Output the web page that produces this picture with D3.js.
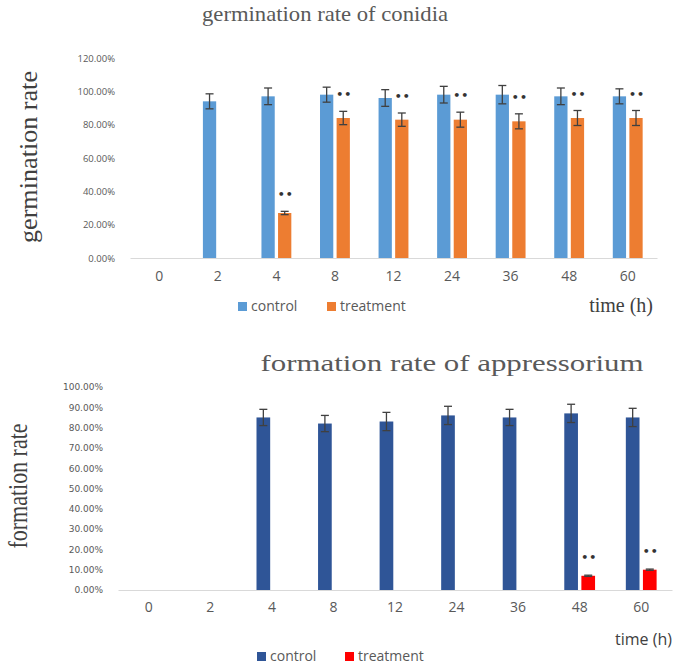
<!DOCTYPE html>
<html><head><meta charset="utf-8">
<script src="https://cdn.jsdelivr.net/npm/d3@7"></script>
<style>body{margin:0;background:#fff;}svg{display:block;}</style>
</head><body>
<script>
// ---- data ----
const categories = ["0","2","4","8","12","24","36","48","60"];
const seriesNames = ["control","treatment"];

const germControl    = [0, 0.94, 0.97, 0.98, 0.96, 0.98, 0.98, 0.97, 0.97];
const germControlErr = [0, 0.045, 0.05, 0.045, 0.05, 0.05, 0.055, 0.05, 0.045];
const germTreat      = [0, 0, 0.27, 0.84, 0.83, 0.83, 0.82, 0.84, 0.84];
const germTreatErr   = [0, 0, 0.01, 0.04, 0.04, 0.045, 0.045, 0.045, 0.045];
const germSig        = [false, false, true, true, true, true, true, true, true];
const germTicks      = [0, 0.2, 0.4, 0.6, 0.8, 1.0, 1.2];

const formControl    = [0, 0, 0.85, 0.82, 0.83, 0.86, 0.85, 0.87, 0.85];
const formControlErr = [0, 0, 0.04, 0.04, 0.045, 0.045, 0.04, 0.045, 0.045];
const formTreat      = [0, 0, 0, 0, 0, 0, 0, 0.07, 0.10];
const formTreatErr   = [0, 0, 0, 0, 0, 0, 0, 0.003, 0.003];
const formSig        = [false, false, false, false, false, false, false, true, true];
const formTicks      = [0, 0.1, 0.2, 0.3, 0.4, 0.5, 0.6, 0.7, 0.8, 0.9, 1.0];

const W = 673, H = 664;
const svg = d3.select("body").append("svg").attr("width", W).attr("height", H);
const fmt = d3.format(".2%");

function drawChart(o) {
  const g = svg.append("g");
  const x0 = d3.scaleBand().domain(categories).range([o.x0, o.x1])
    .paddingInner(o.pad).paddingOuter(o.pad / 2);
  const x1 = d3.scaleBand().domain(seriesNames).range([0, x0.bandwidth()])
    .paddingInner(0.2).paddingOuter(0);
  const y = d3.scaleLinear().domain([0, o.ymax]).range([o.y0, o.y1]);

  // y axis labels
  const ya = d3.axisLeft(y).tickValues(o.ticks).tickFormat(fmt).tickSize(0).tickPadding(0);
  const yg = g.append("g").attr("transform", `translate(${o.ylabX},0)`).call(ya);
  yg.select(".domain").remove();
  yg.selectAll("text").attr("font-family", o.yFont).attr("font-size", o.yFontSize)
    .attr("fill", "#595959");

  // baseline + x labels
  const xa = d3.axisBottom(x0).tickSize(0).tickPadding(o.xPad);
  const xg = g.append("g").attr("transform", `translate(0,${o.y0})`).call(xa);
  xg.select(".domain").attr("stroke", "#d9d9d9").attr("stroke-width", 1.2);
  xg.selectAll("text").attr("font-family", "'Open Sans', sans-serif").attr("font-size", 14)
    .attr("fill", "#595959");

  const rows = categories.map((c, i) => ({
    c, i,
    vals: [
      { s: "control", v: o.ctrl[i], e: o.ctrlErr[i] },
      { s: "treatment", v: o.trt[i], e: o.trtErr[i] }
    ]
  }));

  const grp = g.selectAll(".grp").data(rows).join("g")
    .attr("transform", d => `translate(${x0(d.c)},0)`);

  grp.selectAll("rect").data(d => d.vals.filter(v => v.v > 0)).join("rect")
    .attr("x", d => x1(d.s)).attr("width", x1.bandwidth())
    .attr("y", d => y(d.v)).attr("height", d => y(0) - y(d.v))
    .attr("fill", d => o.colors[d.s]);

  // error bars
  const eb = grp.selectAll(".eb").data(d => d.vals.filter(v => v.v > 0)).join("g")
    .attr("stroke", "#404040").attr("stroke-width", 1.3);
  eb.append("line")
    .attr("x1", d => x1(d.s) + x1.bandwidth() / 2).attr("x2", d => x1(d.s) + x1.bandwidth() / 2)
    .attr("y1", d => y(d.v + d.e)).attr("y2", d => y(d.v - d.e));
  eb.append("line")
    .attr("x1", d => x1(d.s) + x1.bandwidth() / 2 - 4).attr("x2", d => x1(d.s) + x1.bandwidth() / 2 + 4)
    .attr("y1", d => y(d.v + d.e)).attr("y2", d => y(d.v + d.e));
  eb.append("line")
    .attr("x1", d => x1(d.s) + x1.bandwidth() / 2 - 4).attr("x2", d => x1(d.s) + x1.bandwidth() / 2 + 4)
    .attr("y1", d => y(d.v - d.e)).attr("y2", d => y(d.v - d.e));

  // significance marks (above the treatment bar)
  grp.filter(d => o.sig[d.i]).append("text")
    .attr("x", x1("treatment") + x1.bandwidth() / 2 + 1)
    .attr("y", d => y(o.trt[d.i] + o.trtErr[d.i]) - o.sigOff)
    .attr("text-anchor", "middle").attr("dominant-baseline", "middle")
    .attr("font-family", "'DejaVu Sans', sans-serif").attr("font-size", 11).attr("font-weight", "bold")
    .attr("letter-spacing", 1)
    .attr("fill", "#333").text("••");

  // title
  svg.append("text").attr("x", o.titleX).attr("y", o.titleY).attr("text-anchor", "middle")
    .attr("font-family", "'Liberation Serif', serif").attr("font-size", o.titleSize)
    .attr("fill", "#595959").attr("textLength", o.titleLen).attr("lengthAdjust", "spacingAndGlyphs")
    .text(o.title);

  // y title
  svg.append("text").attr("transform", `translate(${o.ytX},${o.ytY}) rotate(-90)`)
    .attr("text-anchor", "middle")
    .attr("font-family", "'Liberation Serif', serif").attr("font-size", o.ytSize)
    .attr("fill", "#404040").attr("textLength", o.ytLen).attr("lengthAdjust", "spacingAndGlyphs")
    .text(o.ytitle);

  // legend
  const lg = svg.append("g");
  o.legend.forEach((L, k) => {
    lg.append("rect").attr("x", L.x).attr("y", o.legY - 5).attr("width", 9).attr("height", 9)
      .attr("fill", o.colors[seriesNames[k]]);
    lg.append("text").attr("x", L.x + 13).attr("y", o.legY).attr("dominant-baseline", "middle")
      .attr("font-family", "'Open Sans', sans-serif").attr("font-size", 14).attr("fill", "#595959")
      .text(seriesNames[k]);
  });

  // x title
  svg.append("text").attr("x", o.xtX).attr("y", o.xtY).attr("text-anchor", "end")
    .attr("dominant-baseline", "middle")
    .attr("font-family", o.xtFont).attr("font-size", o.xtSize).attr("fill", "#404040")
    .text("time (h)");
}

drawChart({
  ctrl: germControl, ctrlErr: germControlErr, trt: germTreat, trtErr: germTreatErr, sig: germSig,
  ticks: germTicks, ymax: 1.2, x0: 130, x1: 657, y0: 258, y1: 58, pad: 0.49,
  ylabX: 115, yFont: "'Open Sans', sans-serif", yFontSize: 9.5, xPad: 13, sigOff: 16,
  colors: { control: "#5b9bd5", treatment: "#ed7d31" },
  title: "germination rate of conidia", titleX: 325, titleY: 21, titleSize: 22, titleLen: 246,
  ytitle: "germination rate", ytX: 37, ytY: 157, ytSize: 26, ytLen: 172,
  legend: [{ x: 238 }, { x: 327 }], legY: 307,
  xtX: 653, xtY: 307, xtFont: "'Liberation Serif', serif", xtSize: 20
});

drawChart({
  ctrl: formControl, ctrlErr: formControlErr, trt: formTreat, trtErr: formTreatErr, sig: formSig,
  ticks: formTicks, ymax: 1.0, x0: 118, x1: 672, y0: 590, y1: 387, pad: 0.5,
  ylabX: 103, yFont: "'DejaVu Sans', sans-serif", yFontSize: 9, xPad: 12, sigOff: 17,
  colors: { control: "#2f5597", treatment: "#ff0000" },
  title: "formation rate of appressorium", titleX: 452, titleY: 371, titleSize: 23, titleLen: 383,
  ytitle: "formation rate", ytX: 27, ytY: 486, ytSize: 28, ytLen: 125,
  legend: [{ x: 257 }, { x: 345 }], legY: 657,
  xtX: 672, xtY: 641, xtFont: "'Open Sans', sans-serif", xtSize: 16
});
</script>
</body></html>
